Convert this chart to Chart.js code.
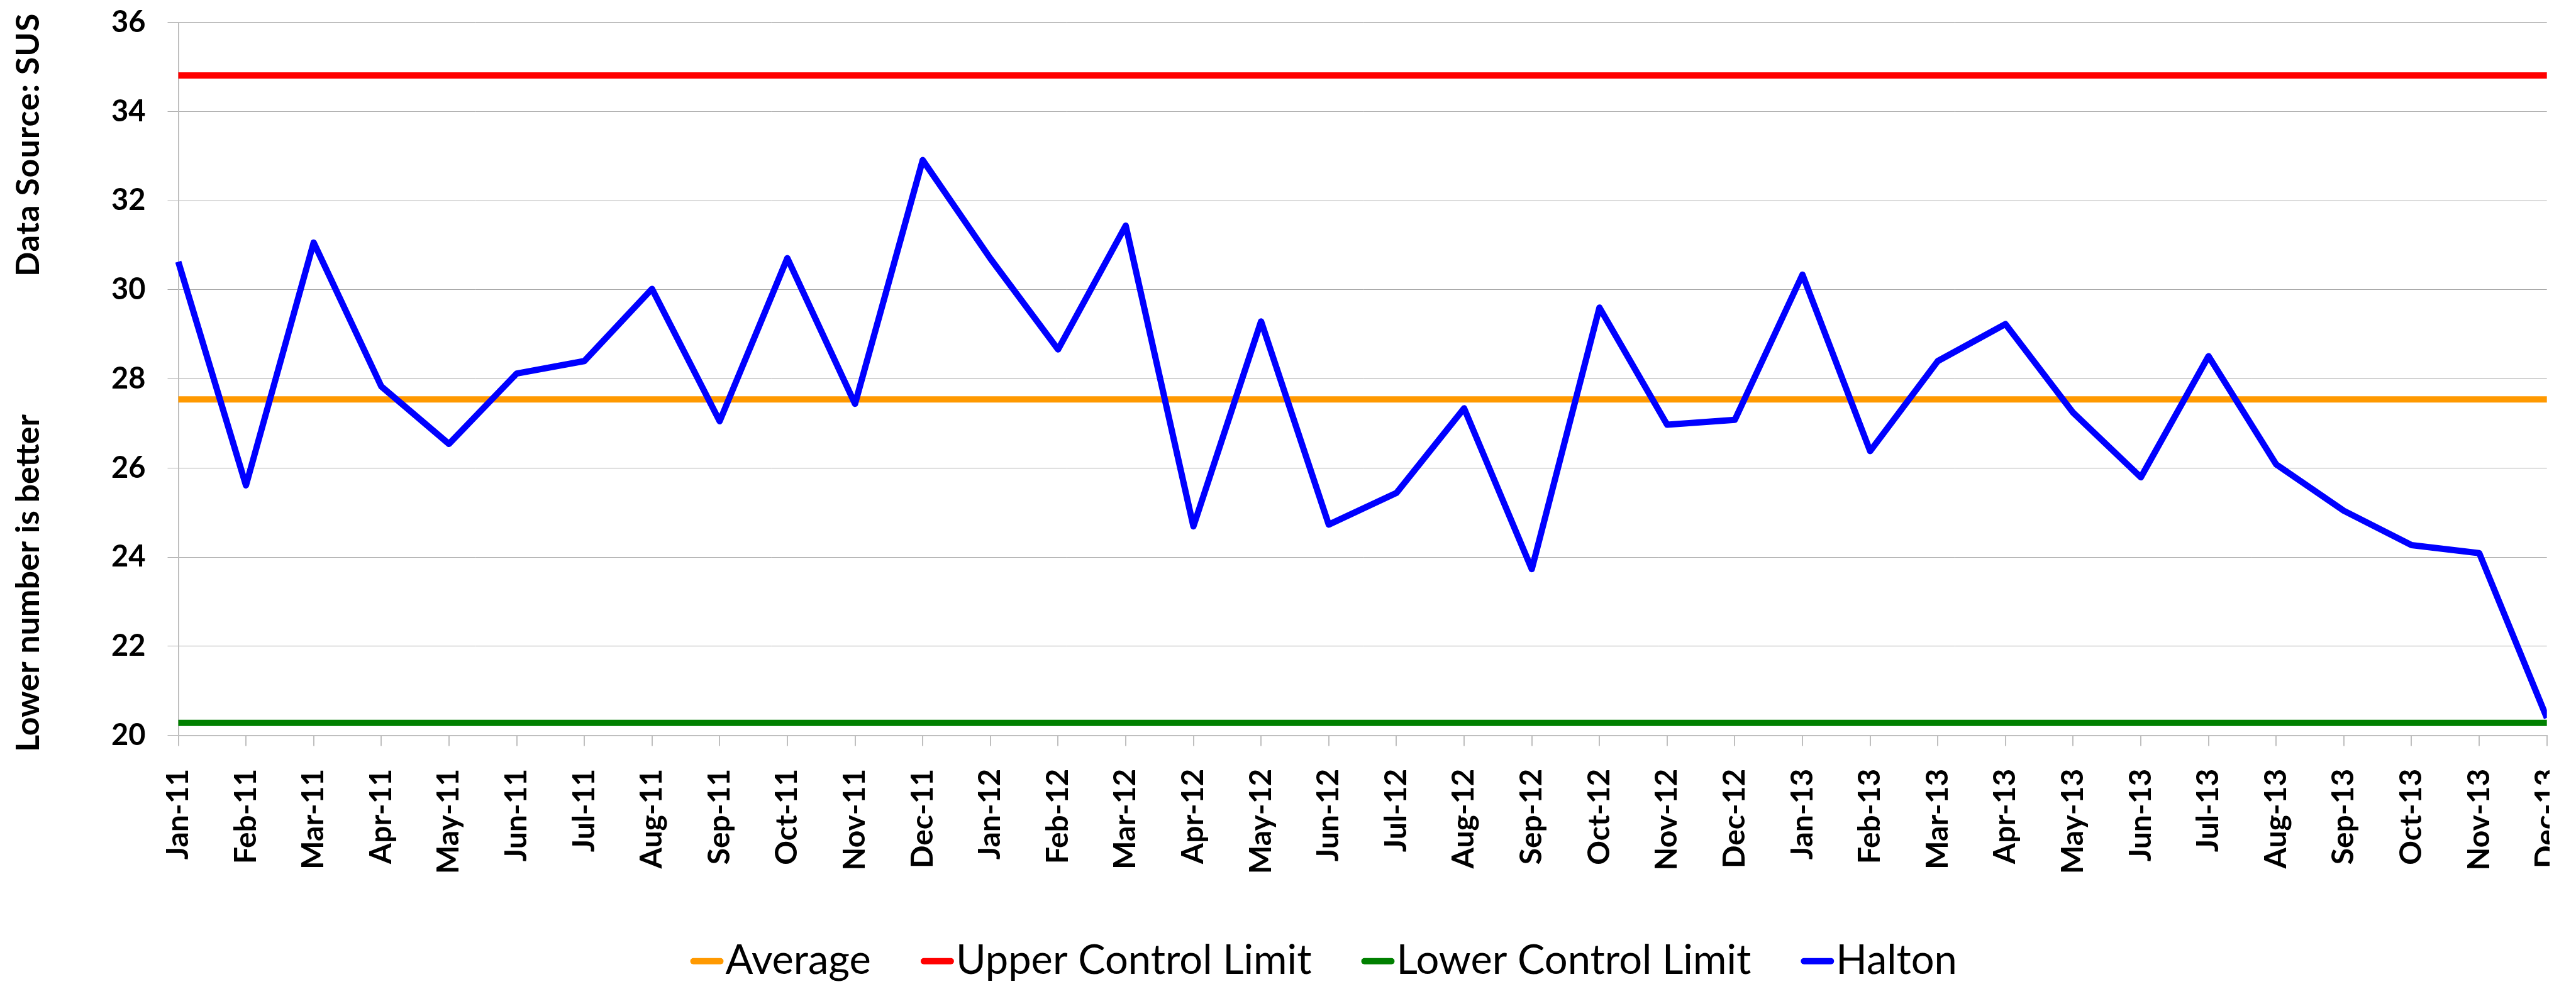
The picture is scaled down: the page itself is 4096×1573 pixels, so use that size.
<!DOCTYPE html>
<html>
<head>
<meta charset="utf-8">
<script src="https://cdn.jsdelivr.net/npm/chart.js@4/dist/chart.umd.min.js"></script>
<style>
  html, body { margin: 0; padding: 0; background: #ffffff; }
  #wrap { width: 4096px; height: 1573px; position: relative; background: #ffffff; overflow: hidden; }
  canvas { position: absolute; left: 0; top: 0; }
</style>
</head>
<body>
<div id="wrap"><canvas id="c" width="4054" height="1573"></canvas></div>
<script>
// ---- data ----
const months = ["Jan-11","Feb-11","Mar-11","Apr-11","May-11","Jun-11","Jul-11","Aug-11","Sep-11","Oct-11","Nov-11","Dec-11",
                "Jan-12","Feb-12","Mar-12","Apr-12","May-12","Jun-12","Jul-12","Aug-12","Sep-12","Oct-12","Nov-12","Dec-12",
                "Jan-13","Feb-13","Mar-13","Apr-13","May-13","Jun-13","Jul-13","Aug-13","Sep-13","Oct-13","Nov-13","Dec-13"];
const haltonValues = [30.63, 25.61, 31.06, 27.83, 26.54, 28.12, 28.40, 30.02, 27.05, 30.71, 27.44, 32.91,
                      30.70, 28.66, 31.44, 24.69, 29.29, 24.73, 25.44, 27.34, 23.73, 29.60, 26.97, 27.08,
                      30.34, 26.38, 28.40, 29.23, 27.24, 25.79, 28.51, 26.08, 25.04, 24.27, 24.09, 20.39];
const averageValue = 27.54;
const upperLimitValue = 34.81;
const lowerLimitValue = 20.28;
const seriesNames = ["Average", "Upper Control Limit", "Lower Control Limit", "Halton"];
const yTicks = { min: 20, max: 36, step: 2 };
const yTitleBottom = "Lower number is better";
const yTitleTop = "Data Source: SUS";

// ---- layout (target px) ----
const PLOT_LEFT = 283.5, PLOT_RIGHT = 4049.7, PLOT_TOP = 35.6, PLOT_BOTTOM = 1169.6;
const CANVAS_W = 4054, CANVAS_H = 1573;

Chart.defaults.font.family = "Lato, 'DejaVu Sans', sans-serif";
Chart.defaults.color = "#000000";

const constant = v => new Array(months.length).fill(v);

const yTitlePlugin = {
  id: 'yTitle',
  afterDraw(chart) {
    const ctx = chart.ctx;
    ctx.save();
    ctx.fillStyle = '#000';
    ctx.font = "bold 52px Lato";
    ctx.textBaseline = 'alphabetic';
    ctx.save();
    ctx.translate(61.5, 1196);
    ctx.rotate(-Math.PI / 2);
    ctx.textAlign = 'left';
    ctx.fillText(yTitleBottom, 0, 0);
    ctx.restore();
    ctx.save();
    try { ctx.letterSpacing = '1px'; } catch (e) {}
    ctx.translate(61.5, 20.5);
    ctx.rotate(-Math.PI / 2);
    ctx.textAlign = 'right';
    ctx.fillText(yTitleTop, 0, 0);
    ctx.restore();
    ctx.restore();
  }
};

const legendPlugin = {
  id: 'customLegend',
  afterDraw(chart) {
    const ctx = chart.ctx;
    const ds = chart.data.datasets;
    const lineLen = 53, lineGap = 3, itemGap = 79, centerX = 2104.7, lineY = 1528.7, baseY = 1549;
    ctx.save();
    ctx.font = "65px Lato";
    const widths = ds.map(d => lineLen + lineGap + ctx.measureText(d.label).width);
    const total = widths.reduce((a, b) => a + b, 0) + itemGap * (ds.length - 1);
    let x = centerX - total / 2;
    ds.forEach((d, i) => {
      ctx.strokeStyle = d.borderColor;
      ctx.lineWidth = 10;
      ctx.lineCap = 'round';
      ctx.beginPath();
      ctx.moveTo(x + 5, lineY);
      ctx.lineTo(x + lineLen - 5, lineY);
      ctx.stroke();
      ctx.fillStyle = '#000';
      ctx.textAlign = 'left';
      ctx.textBaseline = 'alphabetic';
      ctx.fillText(d.label, x + lineLen + lineGap, baseY);
      x += widths[i] + itemGap;
    });
    ctx.restore();
  }
};

new Chart(document.getElementById('c'), {
  type: 'line',
  data: {
    labels: months,
    datasets: [
      { label: seriesNames[0], data: constant(averageValue), borderColor: '#FF9900', backgroundColor: '#FF9900', borderWidth: 10, pointRadius: 0, order: 1 },
      { label: seriesNames[1], data: constant(upperLimitValue), borderColor: '#FF0000', backgroundColor: '#FF0000', borderWidth: 10, pointRadius: 0, order: 1 },
      { label: seriesNames[2], data: constant(lowerLimitValue), borderColor: '#008000', backgroundColor: '#008000', borderWidth: 10, pointRadius: 0, order: 1 },
      { label: seriesNames[3], data: haltonValues, borderColor: '#0000FF', backgroundColor: '#0000FF', borderWidth: 10, pointRadius: 0, tension: 0, order: 0, borderJoinStyle: 'round', clip: {left: 10, top: 10, right: 0, bottom: 10} }
    ]
  },
  options: {
    responsive: false,
    animation: false,
    devicePixelRatio: 1,
    layout: { padding: { left: 0, right: CANVAS_W - PLOT_RIGHT, top: PLOT_TOP, bottom: 0 } },
    plugins: { legend: { display: false }, tooltip: { enabled: false } },
    scales: {
      x: {
        type: 'category',
        offset: false,
        grid: { drawOnChartArea: false, drawTicks: true, tickLength: 17, color: '#bfbfbf', lineWidth: 2 },
        border: { display: true, color: '#bfbfbf', width: 2 },
        ticks: { autoSkip: false, maxRotation: 90, minRotation: 90, padding: 36, font: { size: 48, weight: 'bold' }, color: '#000' },
        afterFit(scale) { scale.height = CANVAS_H - PLOT_BOTTOM; scale.paddingLeft = 0; scale.paddingRight = 0; }
      },
      y: {
        min: yTicks.min, max: yTicks.max,
        grid: { color: '#a6a6a6', lineWidth: 1, tickLength: 17 },
        border: { display: true, color: '#bfbfbf', width: 2 },
        ticks: { stepSize: yTicks.step, padding: 35, font: { size: 47, weight: 'bold' }, color: '#000' },
        afterFit(scale) { scale.width = PLOT_LEFT; scale.paddingTop = 0; scale.paddingBottom = 0; }
      }
    }
  },
  plugins: [yTitlePlugin, legendPlugin]
});
</script>
</body>
</html>
